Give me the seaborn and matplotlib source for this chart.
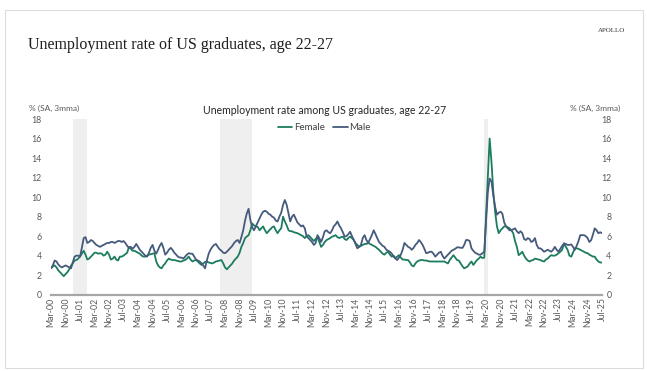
import pandas as pd
import seaborn as sns
from matplotlib import pyplot as plt
from matplotlib.patches import Rectangle

# monthly data, Mar-00 .. Jul-25 (% SA, 3mma)
start_month = "2000-03-01"

female = [
    2.7, 2.9, 3.0, 2.8, 2.5, 2.3, 2.1, 1.9, 2.1, 2.3,  # 2000 (Mar-Dec)
    2.6, 3.0, 3.2, 3.5, 3.55, 3.7, 3.9, 4.2, 4.5, 4.1, 3.6, 3.7,  # 2001
    3.9, 4.1, 4.3, 4.3, 4.2, 4.25, 4.2, 4.0, 4.1, 4.4, 4.1, 3.6,  # 2002
    3.7, 3.9, 3.6, 3.5, 3.9, 3.9, 4.0, 4.15, 4.3, 4.9, 4.7, 4.5,  # 2003
    4.5, 4.4, 4.3, 4.2, 4.0, 3.9, 3.9, 4.0, 4.1, 4.15, 4.2, 4.25,  # 2004
    3.4, 3.0, 2.8, 2.7, 3.0, 3.2, 3.5, 3.7, 3.6, 3.55, 3.55, 3.5,  # 2005
    3.45, 3.4, 3.4, 3.5, 3.55, 3.7, 3.9, 3.6, 3.4, 3.5, 3.55, 3.4,  # 2006
    3.2, 3.05, 3.2, 3.35, 3.4, 3.3, 3.25, 3.2, 3.3, 3.4, 3.45, 3.5,  # 2007
    3.55, 3.2, 2.8, 2.6, 2.8, 3.0, 3.2, 3.5, 3.7, 3.9, 4.3, 4.9,  # 2008
    5.3, 5.8, 5.95, 6.1, 6.6, 7.3, 7.1, 7.0, 6.95, 6.6, 6.8, 7.0,  # 2009
    6.6, 6.3, 6.5, 6.7, 6.9, 7.0, 6.6, 6.3, 6.6, 6.8, 8.0, 7.5,  # 2010
    7.1, 6.6, 6.5, 6.5, 6.4, 6.35, 6.3, 6.2, 6.1, 6.0, 5.8, 6.0,  # 2011
    6.1, 5.9, 5.7, 5.5, 5.7, 5.9, 5.4, 4.9, 5.1, 5.4, 5.6, 5.7,  # 2012
    5.8, 5.95, 6.0, 6.1, 5.9, 5.8, 5.9, 5.95, 5.7, 5.6, 5.8, 5.95,  # 2013
    5.8, 5.6, 5.3, 5.1, 4.9, 5.0, 5.1, 5.2, 5.2, 5.3, 5.2, 5.1,  # 2014
    5.0, 4.9, 4.75, 4.6, 4.4, 4.2, 4.1, 4.3, 4.4, 4.1, 3.9, 4.0,  # 2015
    3.75, 3.9, 4.05, 3.8, 3.6, 3.6, 3.55, 3.55, 3.3, 3.0, 2.9, 3.2,  # 2016
    3.4, 3.5, 3.55, 3.55, 3.5, 3.5, 3.45, 3.4, 3.4, 3.4, 3.4, 3.4,  # 2017
    3.4, 3.4, 3.4, 3.4, 3.3, 3.2, 3.55, 3.8, 4.05, 3.8, 3.55, 3.5,  # 2018
    3.2, 2.9, 2.7, 2.8, 2.9, 3.2, 3.4, 3.05, 3.3, 3.55, 3.7, 3.9,  # 2019
    3.75, 3.8, 8.0, 12.0, 16.0, 13.6, 10.6, 8.5, 7.0, 6.3, 6.6, 6.8,  # 2020
    7.0, 7.0, 6.9, 6.8, 6.6, 6.3, 5.5, 4.9, 4.05, 4.2, 4.4, 4.0,  # 2021
    3.7, 3.5, 3.4, 3.5, 3.55, 3.7, 3.65, 3.6, 3.55, 3.45, 3.4, 3.6,  # 2022
    3.7, 3.9, 4.05, 4.0, 4.0, 4.1, 4.25, 4.4, 4.6, 5.25, 4.9, 4.6,  # 2023
    4.0, 3.9, 4.3, 4.75, 4.75, 4.7, 4.6, 4.5, 4.4, 4.3, 4.25, 4.1,  # 2024
    4.0, 3.9, 3.9, 3.6, 3.4, 3.3, 3.3,  # 2025 (Jan-Jul)
]

male = [
    2.7, 3.0, 3.5, 3.4, 3.1, 2.9, 2.8, 2.9, 3.0, 2.9,  # 2000 (Mar-Dec)
    2.8, 2.7, 3.3, 3.9, 4.0, 4.0, 3.9, 4.8, 5.8, 5.9, 5.3, 5.4,  # 2001
    5.6, 5.5, 5.3, 5.1, 5.0, 4.9, 5.0, 5.1, 5.2, 5.3, 5.3, 5.4,  # 2002
    5.4, 5.3, 5.4, 5.5, 5.5, 5.4, 5.5, 5.3, 5.0, 4.8, 4.9, 4.7,  # 2003
    4.9, 5.2, 4.9, 4.6, 4.4, 4.2, 4.0, 3.9, 4.3, 4.8, 5.1, 4.5,  # 2004
    4.2, 4.6, 5.0, 5.3, 4.8, 4.1, 4.3, 4.6, 4.8, 4.6, 4.3, 4.1,  # 2005
    3.9, 3.8, 3.8, 3.7, 3.9, 4.1, 4.25, 4.2, 4.2, 3.9, 3.6, 3.5,  # 2006
    3.4, 3.2, 3.0, 2.7, 3.5, 4.2, 4.6, 4.9, 5.1, 5.2, 4.9, 4.65,  # 2007
    4.5, 4.3, 4.25, 4.4, 4.6, 4.8, 5.0, 5.3, 5.5, 5.6, 5.3, 5.9,  # 2008
    6.6, 7.6, 8.3, 8.8, 7.65, 6.9, 6.6, 7.0, 7.4, 7.8, 8.2, 8.5,  # 2009
    8.6, 8.5, 8.3, 8.2, 8.0, 7.9, 7.6, 7.5, 8.0, 8.4, 9.2, 9.7,  # 2010
    9.2, 8.3, 7.5, 8.0, 8.2, 7.8, 7.4, 7.2, 7.0, 7.1, 6.8, 6.0,  # 2011
    5.8, 5.6, 5.4, 5.1, 5.3, 6.1, 5.8, 5.4, 5.9, 6.5, 6.6, 6.4,  # 2012
    6.3, 6.6, 7.0, 7.2, 7.5, 7.1, 6.8, 6.4, 5.95, 6.0, 6.2, 6.45,  # 2013
    6.0, 5.6, 5.2, 4.75, 4.9, 5.1, 5.8, 6.1, 5.6, 5.3, 5.7, 6.1,  # 2014
    6.6, 6.2, 5.8, 5.4, 5.2, 5.0, 4.9, 4.6, 4.5, 4.4, 4.2, 3.9,  # 2015
    3.7, 3.55, 3.8, 4.1, 4.6, 5.3, 5.1, 4.9, 4.8, 4.6, 4.8, 5.1,  # 2016
    5.3, 5.6, 5.4, 5.1, 4.7, 4.25, 4.3, 4.4, 4.4, 4.2, 3.9, 4.1,  # 2017
    4.3, 4.4, 4.0, 3.7, 3.9, 4.1, 4.3, 4.5, 4.6, 4.7, 4.85, 4.85,  # 2018
    4.8, 4.8, 5.1, 5.6, 5.6, 5.5, 4.75, 4.5, 4.3, 4.2, 4.1, 4.1,  # 2019
    4.25, 4.4, 7.5, 10.5, 11.9, 11.6, 10.2, 9.0, 8.2, 8.4, 8.5, 8.3,  # 2020
    7.4, 7.0, 6.8, 6.6, 6.6, 6.7, 6.8, 6.5, 6.3, 6.5, 6.3, 5.7,  # 2021
    5.6, 5.8, 5.7, 5.4, 5.5, 5.8, 5.1, 4.75, 4.75, 4.6, 4.4, 4.5,  # 2022
    4.6, 4.5, 4.4, 4.6, 4.9, 4.6, 4.4, 4.7, 5.0, 5.25, 5.2, 5.1,  # 2023
    5.1, 5.15, 4.9, 4.6, 5.0, 5.5, 6.1, 6.1, 6.1, 6.0, 5.8, 5.4,  # 2024
    5.6, 6.2, 6.8, 6.6, 6.3, 6.4, 6.3,  # 2025 (Jan-Jul)
]

# recession shading (start, end)
recessions = [("2001-03-01", "2001-11-01"), ("2007-12-01", "2009-06-01"), ("2020-02-01", "2020-04-01")]

series_names = ["Female", "Male"]
colors = ["#1B7C5F", "#455A7C"]
y_ticks = [0, 2, 4, 6, 8, 10, 12, 14, 16, 18]

dates = pd.date_range(start_month, periods=len(female), freq="MS")
df = pd.DataFrame({"date": list(dates) * 2,
                   "value": female + male,
                   "series": ["Female"] * len(female) + ["Male"] * len(male)})

sns.set_theme(style="white")
plt.rcParams["font.family"] = ["Lato", "DejaVu Sans"]

fig = plt.figure(figsize=(6.47, 3.71), dpi=100)
ax = fig.add_axes([51 / 647, 0.2057, 551 / 647, 0.4735])

for s, e in recessions:
    ax.axvspan(pd.Timestamp(s), pd.Timestamp(e), color="#EFEFEF", lw=0, zorder=0)

sns.lineplot(data=df, x="date", y="value", hue="series", hue_order=series_names,
             palette=colors, linewidth=1.3, ax=ax)

ax.set_xlim(dates[0], dates[-1])
ax.set_ylim(0, 18)
ax.set_yticks(y_ticks)
ax.set_xlabel("")
ax.set_ylabel("")

ticks = pd.date_range(start_month, dates[-1], freq="8MS")
ax.set_xticks(ticks)
ax.set_xticklabels([t.strftime("%b-%y") for t in ticks], rotation=90)

for side in ["top", "left", "right"]:
    ax.spines[side].set_visible(False)
ax.spines["bottom"].set_color("#A6A6A6")
ax.spines["bottom"].set_linewidth(1.6)

ax.tick_params(axis="x", length=0, pad=2, labelsize=6.3, labelcolor="#595959")
ax.tick_params(axis="y", length=0, labelsize=6.3, labelcolor="#595959",
               labelleft=True, labelright=True, pad=6.8)
for t in ax.yaxis.get_major_ticks():
    t.label2.set_ha("right")
    t.set_pad(6.8)

leg = ax.legend(loc="center", bbox_to_anchor=(0.496, 0.949), ncol=2, frameon=False,
                fontsize=7, handlelength=1.5, handletextpad=0.2, columnspacing=0.8)
for line in leg.get_lines():
    line.set_linewidth(1.3)
for txt in leg.get_texts():
    txt.set_color("#404040")

ax.text(0.496, 1.05, "Unemployment rate among US graduates, age 22-27", transform=ax.transAxes,
        ha="center", va="center", fontsize=7.6, color="#262626")
fig.text(29 / 647, 1 - 108 / 371, "% (SA, 3mma)", ha="left", va="center", fontsize=6, color="#595959")
fig.text(620 / 647, 1 - 108 / 371, "% (SA, 3mma)", ha="right", va="center", fontsize=6, color="#595959")

fig.text(28 / 647, 1 - 45 / 371, "Unemployment rate of US graduates, age 22-27",
         ha="left", va="center", fontsize=11.5, family="Liberation Serif", color="#1E1E1E")
fig.text(625 / 647, 1 - 30 / 371, "APOLLO", ha="right", va="center", fontsize=5,
         family="Liberation Serif", color="#333333")

fig.patches.append(Rectangle((5 / 647, 3 / 371), 638 / 647, 358 / 371, transform=fig.transFigure,
                             fill=False, edgecolor="#DCDCDC", lw=0.8))

plt.savefig("out.png", dpi=100)
